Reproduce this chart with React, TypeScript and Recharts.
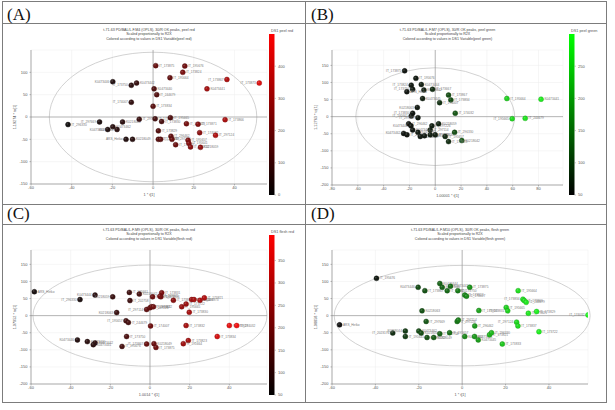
import React from 'react';
import { ScatterChart, Scatter, XAxis, YAxis, CartesianGrid, ReferenceLine, ReferenceArea } from 'recharts';

const FONT = '"Liberation Sans", Arial, sans-serif';

// ---------- Panel A : peel red ----------
const namesA = ['IT_173875','IT_195676','IT_173824','IT_195664','K0473446','K0473442','IT_173867','IT_173873','IT_173750','K0473440','K0473441','IT_244679','IT_174007','IT_173834','IT_296330','IT_297669','K0218063','IT_297114','IT_173832','IT_195665','IT_173830','IT_173823','IT_173871','IT_173866','K0473462','K0473460','K0473461','ARS_Hetko','K0218049','IT_173829','IT_173833','IT_202758','IT_296462','IT_297226','IT_173837','IT_195657','IT_195641','IT_173722','IT_174032','IT_297124','K0218059'];
const t1A = [1.3,15.6,14.6,8.3,-19.8,-8.1,36.3,52.2,-10.7,0.5,26.5,1.8,-10.7,0,-41.8,-26.3,-15,-6.8,1,8.5,4.2,16.4,22.1,35.4,-19.8,-17.7,-22.3,-13.3,-10.1,2.6,2.6,3.7,8.8,9.3,11.1,17.2,17.6,18.4,22.9,30.7,23.3];
const to1A = [115,114,100,88,79,76,84,76,71,63,63,50,33,24,-17,-11,-11,-5,-4,-1.5,-10,-15,-16,-6,-22,-28,-28,-50,-50,-31,-50,-50,-43,-50,-62,-52,-59,-67,-35,-41,-68];
const valA = [180,200,220,170,40,80,330,430,60,130,310,140,70,150,5,30,60,90,110,130,120,210,240,320,50,55,35,40,50,140,150,155,170,180,190,230,240,250,260,330,270];
const barTicksA = [0,100,200,300,400];

// ---------- Panel B : peel green ----------
const namesB = ['IT_195676','IT_173875','IT_173824','IT_173750','K0473444','K0473442','IT_173667','IT_173867','IT_173834','IT_174007','K0218063','IT_174032','IT_173830','IT_195661','IT_297669','IT_296462','K0473446','K0473440','K0473462','IT_202758','IT_297226','IT_297114','K0218059','K0473782','K0218049','IT_173823','IT_173829','IT_173831','IT_195657','IT_296330','K0218042','IT_173833','IT_195664','K0473441','IT_195665','IT_244679','K0473445','ARS_Hetko'];
const t1B = [-15,-23.7,-18.6,-17.5,-10.8,-8.8,-2.1,10.3,12.1,3.4,-13.9,15.5,-17.5,-18.6,-13.4,-20.6,-18.8,-17.5,-24.5,-21.9,-2.6,-3.9,2.6,-13.4,-11.6,-8.3,-3.9,0,7.7,15,20.6,10.3,55.5,82,59.6,69.7,-9.8,-22];
const to1B = [112,134,92,80,94,78,80,63,49,41,27,10,10,2,-3,-21,-27,-39,-49,-53,-27,-39,-21,-46,-58,-56,-53,-53,-58,-46,-70,-73,53,51,-6,-5,53,73];
const valB = [60,55,60,60,65,65,80,115,115,85,60,125,55,55,60,55,55,55,55,55,65,65,70,60,60,60,65,65,75,115,125,80,255,285,265,275,65,55];
const barTicksB = [50,100,150,200,250];

// ---------- Panel C : flesh red ----------
const namesC = ['ARS_Hetko','IT_296330','K0473444','K0218059','IT_195661','K0218042','IT_202758','K0218063','IT_195657','IT_244679','IT_297114','IT_297226','IT_296462','IT_173832','IT_297669','IT_173831','IT_173866','IT_173871','IT_173837','IT_195665','IT_173722','IT_173824','IT_174044','IT_173873','IT_173821','IT_173830','IT_174007','IT_173832b','IT_173829','IT_174032','IT_173834','IT_173823','IT_195664','IT_173867','K0218049','IT_173875','IT_173750','IT_195676','K0473446','K0473440','K0473442','K0473441'];
const t1C = [-58.3,-35.3,-27.7,-18.8,-10.4,-5.4,-10.1,-16.8,-12.1,-10.9,-1.7,0,0.8,1.7,1.3,5.9,5.5,5,11.8,16,18.2,21,22.2,25.2,27.4,19.8,0.3,18.2,40,43.7,33.9,19.3,16.8,-1.7,2,3,-11.8,-14.1,-36.6,-31.6,-27.7,-28.6];
const to1C = [70,47,60,55,68,63,44,9,-15,-20,18,23,26,26,55,67,55,57,45,26,34,47,47,45,52,10,-30,-29,-29,-29,-61,-73,-82,-83,-82,-93,-61,-90,-71,-76,-80,-85];
const valC = [60,70,90,110,120,130,120,110,130,130,170,180,185,190,190,210,210,205,230,250,255,265,270,280,290,270,190,270,370,385,340,270,260,180,185,190,140,130,80,90,95,90];
const barTicksC = [50,100,150,200,250,300,350];

// ---------- Panel D : flesh green ----------
const namesD = ['IT_195676','ARS_Hetko','IT_2023176','K0218044','IT_195641','K0473446','IT_173867','K0473444','K0473440','K0473442','IT_173824','IT_173750','IT_173875','IT_173823','IT_174007','K0218063','IT_297669','IT_297226','IT_297114','IT_296462','IT_173830','IT_195665','IT_173831','IT_195664','IT_173834','IT_173866','IT_244679','IT_173871','IT_173829','IT_174032','IT_297124','IT_173837','IT_173722','K0473462','K0218059','K0473782','K0218049','IT_202758','IT_195657','K0218062','K0473441','K0473445','IT_173821','IT_296330','IT_173833'];
const t1D = [-39.5,-56.5,-32,-26.2,-26.2,-20.3,-17.2,-10.3,-9.2,-5.4,-6.9,-2,3.5,1.2,2,-18.5,-16.6,-2.3,-1.8,5.8,7.7,20.3,21,25.8,28,28.6,29.5,30.5,34.3,58,25.1,25.7,35.4,-20,-18.9,-16.2,-13.1,-10.3,-5.8,1.2,5.7,7.4,12.6,13.5,18.5];
const to1D = [109,-27,-51,-45,-61,83,73,94,83,86,73,73,83,60,57,14,-17,-17,-13,-30,15,24,14,73,48,44,39,7,12,2,-19,-30,-47,-45,-51,-64,-64,-53,-50,-61,-61,-71,-56,-50,-83];
const valD = [3,0,12,18,18,25,28,35,35,40,38,45,55,50,52,28,30,45,46,58,62,82,82,88,90,90,92,92,95,100,86,87,95,25,26,28,32,35,40,50,58,60,70,72,78];

const build = (names: string[], t: number[], to: number[], v: number[]) =>
  names.map((n, i) => ({ name: n.replace(/b$/, ''), t: t[i], to: to[i], v: v[i] }));

const dataA = build(namesA, t1A, to1A, valA);
const dataB = build(namesB, t1B, to1B, valB);
const dataC = build(namesC, t1C, to1C, valC);
const dataD = build(namesD, t1D, to1D, valD);

const RED = [255, 18, 18];
const GREEN = [36, 250, 36];
const DARK = [20, 20, 20];

function mix(v: number, lo: number, hi: number, bright: number[], k = 1) {
  let f = (v - lo) / (hi - lo);
  f = Math.max(0, Math.min(1, f));
  const c = DARK.map((d, i) => Math.round((d + (bright[i] - d) * f) * k));
  return `rgb(${c[0]},${c[1]},${c[2]})`;
}

type Cfg = {
  key: string;
  plotL: number; plotT: number; plotW: number; plotH: number;
  xDomain: [number, number]; yDomain: [number, number];
  xTicks: number[]; yTicks: number[];
  ea: number; eb: number;
  data: { name: string; t: number; to: number; v: number }[];
  lo: number; hi: number; bright: number[];
  title: string; colorVar: string; yTitle: string; xTitle: string;
  leftLabels: string[];
  bar?: { x: number; top: number; bottom: number; ticks: number[]; label: string };
};

const panels: Cfg[] = [
  {
    key: 'A', plotL: 31, plotT: 50, plotW: 236, plotH: 134,
    xDomain: [-60, 56], yDomain: [-150, 150],
    xTicks: [-60, -40, -20, 0, 20, 40], yTicks: [-150, -100, -50, 0, 50, 100],
    ea: 51, eb: 145, data: dataA, lo: 0, hi: 500, bright: RED,
    title: 't-71-63 PD/BAL/L.F.M4 (OPLS), 30/R OK peaks, peel red', colorVar: 'peel red',
    yTitle: '1.19274 * to[1]', xTitle: '1 * t[1]',
    leftLabels: ['K0473446', 'IT_173750', 'IT_174007', 'IT_297669', 'ARS_Hetko', 'IT_173873', 'IT_173867', 'K0473461', 'K0473460'],
    bar: { x: 269, top: 34, bottom: 195, ticks: barTicksA, label: 'DS1 peel red' },
  },
  {
    key: 'B', plotL: 332, plotT: 50, plotW: 231, plotH: 135,
    xDomain: [-80, 99], yDomain: [-200, 195],
    xTicks: [-80, -60, -40, -20, 0, 20, 40, 60, 80], yTicks: [-200, -150, -100, -50, 0, 50, 100, 150],
    ea: 61.5, eb: 143, data: dataB, lo: 50, hi: 300, bright: GREEN,
    title: 't-71-63 PD/BAL/L.F.M7 (OPLS), 30/R OK peaks, peel green', colorVar: 'peel green',
    yTitle: '1.12763 * to[1]', xTitle: '1.00001 * t[1]',
    leftLabels: ['IT_173875', 'IT_173824', 'IT_173750', 'K0218063', 'IT_173830', 'IT_195665', 'K0473462', 'IT_195661', 'IT_297669', 'K0473446'],
    bar: { x: 569, top: 34, bottom: 195, ticks: barTicksB, label: 'DS1 peel green' },
  },
  {
    key: 'C', plotL: 31, plotT: 250, plotW: 236, plotH: 134,
    xDomain: [-60, 59], yDomain: [-200, 192],
    xTicks: [-60, -40, -20, 0, 20, 40], yTicks: [-200, -150, -100, -50, 0, 50, 100, 150],
    ea: 59, eb: 148, data: dataC, lo: 50, hi: 407, bright: RED,
    title: 't-71-63 PD/BAL/L.F.M9 (OPLS), 30/R OK peaks, flesh red', colorVar: 'flesh red',
    yTitle: '1.07052 * to[1]', xTitle: '1.0014 * t[1]',
    leftLabels: ['IT_296330', 'K0473444', 'K0218059', 'K0218063', 'IT_195657', 'IT_173867', 'K0473446', 'IT_297114'],
    bar: { x: 269, top: 235, bottom: 395, ticks: barTicksC, label: 'DS1 flesh red' },
  },
  {
    key: 'D', plotL: 332, plotT: 250, plotW: 256, plotH: 134,
    xDomain: [-60, 58], yDomain: [-200, 192],
    xTicks: [-60, -40, -20, 0, 20, 40], yTicks: [-200, -150, -100, -50, 0, 50, 100, 150],
    ea: 59, eb: 147, data: dataD, lo: 0, hi: 100, bright: GREEN,
    title: 't-71-63 PD/BAL/L.F.M10 (OPLS), 30/R OK peaks, flesh green', colorVar: 'flesh green',
    yTitle: '1.08858 * to[1]', xTitle: '1 * t[1]',
    leftLabels: ['IT_174032', 'K0473446', 'IT_2023176', 'IT_173831', 'IT_297124', 'IT_173834', 'K0218044'],
  },
];

const ML = 20, MT = 6, MR = 4, MB = 10;

function Panel({ c }: { c: Cfg }) {
  const tickStyle = { fontSize: 4, fill: '#555', fontFamily: FONT };
  const shape = (p: any) => {
    const { cx, cy, payload } = p;
    if (cx == null || cy == null) return <g />;
    const left = c.leftLabels.includes(payload.name);
    return (
      <g>
        <circle cx={cx} cy={cy} r={2.5} fill={mix(payload.v, c.lo, c.hi, c.bright)}
          stroke={mix(payload.v, c.lo, c.hi, c.bright, 0.7)} strokeWidth={0.4} />
        <circle cx={cx - 0.7} cy={cy - 0.8} r={0.9} fill="rgba(255,255,255,0.18)" />
        <text x={left ? cx - 3.4 : cx + 3.4} y={cy + 1.1} fontSize={3.2} fill="#7a7a7a"
          fontFamily={FONT} textAnchor={left ? 'end' : 'start'}>{payload.name}</text>
      </g>
    );
  };
  return (
    <div style={{ position: 'absolute', left: c.plotL - ML, top: c.plotT - MT }}>
      <ScatterChart width={c.plotW + ML + MR} height={c.plotH + MT + MB}
        margin={{ top: MT, right: MR, bottom: 0, left: 0 }}>
        <CartesianGrid stroke="#ececec" strokeWidth={0.5} />
        <XAxis type="number" dataKey="t" domain={c.xDomain} ticks={c.xTicks} allowDataOverflow
          height={MB} interval={0} tick={tickStyle} tickSize={1.5} tickMargin={1}
          axisLine={{ stroke: '#777', strokeWidth: 0.6 }} tickLine={{ stroke: '#777', strokeWidth: 0.5 }} />
        <YAxis type="number" dataKey="to" domain={c.yDomain} ticks={c.yTicks} allowDataOverflow
          width={ML} interval={0} tick={tickStyle} tickSize={1.5} tickMargin={2}
          axisLine={{ stroke: '#777', strokeWidth: 0.6 }} tickLine={{ stroke: '#777', strokeWidth: 0.5 }} />
        <ReferenceArea x1={-c.ea} x2={c.ea} y1={-c.eb} y2={c.eb} ifOverflow="visible"
          shape={(p: any) => (
            <ellipse cx={p.x + p.width / 2} cy={p.y + p.height / 2} rx={Math.abs(p.width) / 2}
              ry={Math.abs(p.height) / 2} fill="none" stroke="#c6c6c6" strokeWidth={0.8} />
          )} />
        <ReferenceLine x={0} stroke="#8a8a8a" strokeWidth={0.6} />
        <ReferenceLine y={0} stroke="#8a8a8a" strokeWidth={0.6} />
        <Scatter data={c.data} isAnimationActive={false} shape={shape} />
      </ScatterChart>
    </div>
  );
}

function Decorations() {
  const line = '#7c7c7c';
  return (
    <svg width={615} height={410} style={{ position: 'absolute', left: 0, top: 0 }}>
      <defs>
        <linearGradient id="gRed" x1="0" y1="1" x2="0" y2="0">
          <stop offset="0" stopColor="#000" />
          <stop offset="1" stopColor="#ff0000" />
        </linearGradient>
        <linearGradient id="gGreen" x1="0" y1="1" x2="0" y2="0">
          <stop offset="0" stopColor="#000" />
          <stop offset="1" stopColor="#00ff00" />
        </linearGradient>
      </defs>
      <g stroke={line} strokeWidth={1} shapeRendering="crispEdges">
        <line x1={2} y1={1.5} x2={606} y2={1.5} />
        <line x1={2} y1={23.5} x2={606} y2={23.5} />
        <line x1={2} y1={204.5} x2={606} y2={204.5} />
        <line x1={2} y1={224.5} x2={606} y2={224.5} />
        <line x1={2} y1={402.5} x2={606} y2={402.5} />
        <line x1={2.5} y1={1} x2={2.5} y2={403} />
        <line x1={305.5} y1={1} x2={305.5} y2={403} />
        <line x1={606.5} y1={1} x2={606.5} y2={403} />
      </g>
      <g fontFamily='"Liberation Serif", "Times New Roman", serif' fontSize={17} fill="#111">
        <text x={7} y={19.5}>(A)</text>
        <text x={311} y={19.5}>(B)</text>
        <text x={7} y={219}>(C)</text>
        <text x={311} y={219}>(D)</text>
      </g>
      {panels.map((c) => {
        const cx = c.plotL + c.plotW / 2;
        const tY = c.plotT - 19;
        const grad = c.bright === RED ? 'url(#gRed)' : 'url(#gGreen)';
        return (
          <g key={c.key} fontFamily={FONT}>
            <g fontSize={3.6} fill="#444" textAnchor="middle">
              <text x={cx} y={tY}>{c.title}</text>
              <text x={cx} y={tY + 4}>Scaled proportionally to R2X</text>
              <text x={cx} y={tY + 8.5}>{`Colored according to values in DS1 Variable(${c.colorVar})`}</text>
            </g>
            <text x={c.plotL - 15} y={c.plotT + c.plotH / 2} fontSize={3.8} fill="#555" textAnchor="middle"
              transform={`rotate(-90 ${c.plotL - 15} ${c.plotT + c.plotH / 2})`}>{c.yTitle}</text>
            <text x={c.plotL + c.plotW / 2} y={c.plotT + c.plotH + 12} fontSize={3.8} fill="#555" textAnchor="middle">{c.xTitle}</text>
            {c.bar && (
              <g>
                <text x={c.bar.x + 2} y={c.bar.top - 2.5} fontSize={3.8} fill="#555">{c.bar.label}</text>
                <rect x={c.bar.x} y={c.bar.top} width={5.5} height={c.bar.bottom - c.bar.top} fill={grad} />
                {c.bar.ticks.map((v) => {
                  const y = c.bar!.bottom - ((v - c.lo) / (c.hi - c.lo)) * (c.bar!.bottom - c.bar!.top);
                  return (
                    <g key={v}>
                      <line x1={c.bar!.x + 5.5} x2={c.bar!.x + 7} y1={y} y2={y} stroke="#777" strokeWidth={0.4} />
                      <text x={c.bar!.x + 9} y={y + 1.4} fontSize={4} fill="#555">{v}</text>
                    </g>
                  );
                })}
              </g>
            )}
          </g>
        );
      })}
    </svg>
  );
}

export default function App() {
  return (
    <div style={{ position: 'absolute', left: 0, top: 0, width: 615, height: 410, background: '#fff', overflow: 'hidden' }}>
      <Decorations />
      {panels.map((c) => <Panel key={c.key} c={c} />)}
    </div>
  );
}
